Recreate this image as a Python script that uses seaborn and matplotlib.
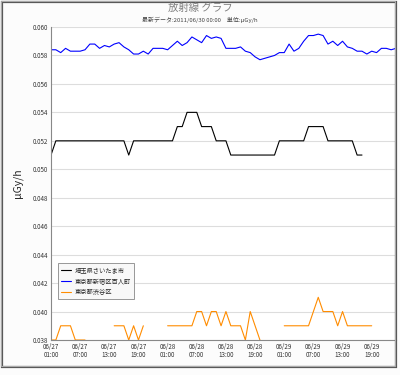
# -*- coding: utf-8 -*-
import numpy as np
import pandas as pd
import seaborn as sns
import matplotlib
matplotlib.use('Agg')
import matplotlib.pyplot as plt
from matplotlib.patches import Rectangle
from matplotlib.ticker import MultipleLocator, FixedLocator

sns.set_style('white')
plt.rcParams['font.family'] = ['Noto Sans CJK JP', 'DejaVu Sans']

# hourly readings, 06/27 01:00 onwards (index = hours)
nan = np.nan
saitama = [0.051] + [0.052] * 15 + [0.051] + [0.052] * 9 + \
          [0.053, 0.053, 0.054, 0.054, 0.054, 0.053, 0.053, 0.053,
           0.052, 0.052, 0.052] + [0.051] * 10 + [0.052] * 6 + \
          [0.053] * 4 + [0.052] * 6 + [0.051, 0.051] + [nan] * 7
shinjuku = [0.0584, 0.0584, 0.0582, 0.0585, 0.0583, 0.0583, 0.0583, 0.0584,
            0.0588, 0.0588, 0.0585, 0.0587, 0.0586, 0.0588, 0.0589, 0.0586,
            0.0584, 0.0581, 0.0581, 0.0583, 0.0581, 0.0585, 0.0585, 0.0585,
            0.0584, 0.0587, 0.0590, 0.0587, 0.0589, 0.0593, 0.0591, 0.0589,
            0.0594, 0.0592, 0.0593, 0.0592, 0.0585, 0.0585, 0.0585, 0.0586,
            0.0583, 0.0582, 0.0579, 0.0577, 0.0578, 0.0579, 0.0580, 0.0582,
            0.0582, 0.0588, 0.0583, 0.0585, 0.0590, 0.0594, 0.0594, 0.0595,
            0.0594, 0.0588, 0.0590, 0.0587, 0.0590, 0.0586, 0.0585, 0.0583,
            0.0583, 0.0581, 0.0583, 0.0582, 0.0585, 0.0585, 0.0584, 0.0585]
shibuya = [0.038, 0.038, 0.039, 0.039, 0.039, 0.038, 0.038, 0.038] + [nan] * 5 + \
          [0.039, 0.039, 0.039, 0.038, 0.039, 0.038, 0.039] + [nan] * 4 + \
          [0.039] * 6 + \
          [0.040, 0.040, 0.039, 0.040, 0.040, 0.039, 0.040, 0.039, 0.039,
           0.039, 0.038, 0.040, 0.039, 0.038] + [nan] * 4 + \
          [0.039] * 6 + \
          [0.040, 0.041, 0.040, 0.040, 0.040, 0.039, 0.040, 0.039] + \
          [0.039] * 5 + [nan] * 4

stations = ['埼玉県さいたま市', '東京都新宿区百人町', '東京都渋谷区']
colors = ['#000000', '#0000ff', '#ff8c00']
tick_labels = ['06/27\n01:00', '06/27\n07:00', '06/27\n13:00', '06/27\n19:00',
               '06/28\n01:00', '06/28\n07:00', '06/28\n13:00', '06/28\n19:00',
               '06/29\n01:00', '06/29\n07:00', '06/29\n13:00', '06/29\n19:00']

frames = []
for name, vals in zip(stations, [saitama, shinjuku, shibuya]):
    s = pd.Series(vals, dtype=float)
    seg = s.isna().cumsum()
    d = pd.DataFrame({'hour': np.arange(len(s)), 'value': s, 'station': name, 'seg': seg})
    frames.append(d.dropna())
df = pd.concat(frames, ignore_index=True)

fig = plt.figure(figsize=(4, 3.75), dpi=100)
fig.patch.set_facecolor('#fcfcfc')
ax = fig.add_axes([51 / 400, 35 / 375, 345 / 400, 313 / 375])
ax.set_facecolor('white')

sns.lineplot(data=df, x='hour', y='value', hue='station', units='seg',
             estimator=None, hue_order=stations, palette=colors,
             linewidth=0.8, ax=ax)

ax.set_xlim(0, 71)
ax.set_ylim(0.038, 0.060)
ax.xaxis.set_major_locator(FixedLocator(np.arange(0, 67, 6)))
ax.set_xticklabels(tick_labels, linespacing=1.0)
ax.xaxis.set_minor_locator(MultipleLocator(1))
ax.yaxis.set_major_locator(MultipleLocator(0.002))
ax.yaxis.set_minor_locator(MultipleLocator(0.001))
ax.yaxis.set_major_formatter(matplotlib.ticker.FormatStrFormatter('%.3f'))
ax.tick_params(which='major', direction='in', length=3, width=0.6, color='#888888',
               labelsize=4.5, labelcolor='#333333', pad=2)
ax.tick_params(which='minor', direction='in', length=2, width=0.5, color='#888888')
ax.grid(axis='y', which='major', color='#dddddd', linewidth=0.8)
ax.set_axisbelow(True)
for sp in ['top', 'right']:
    ax.spines[sp].set_visible(False)
for sp in ['left', 'bottom']:
    ax.spines[sp].set_color('#888888')
    ax.spines[sp].set_linewidth(0.8)

ax.set_xlabel('')
ax.set_ylabel('μGy/h', fontsize=7.5, labelpad=7)

handles, labels = ax.get_legend_handles_labels()
leg = ax.legend(handles, labels, loc='upper left', bbox_to_anchor=(0.012, 0.255),
                fontsize=4.5, frameon=True, fancybox=False, edgecolor='#888888',
                framealpha=1, facecolor='#f8f8f8', handlelength=1.5,
                labelspacing=0.45, borderpad=0.5, handletextpad=0.6)
leg.get_frame().set_linewidth(0.6)

fig.text(0.5, 1 - 7.5 / 375, '放射線 グラフ', ha='center', va='center',
         fontsize=7.5, color='#808080')
fig.text(0.5, 1 - 19.5 / 375, '最新データ:2011/06/30 00:00　単位:μGy/h', ha='center',
         va='center', fontsize=4.3, color='#444444',
         family=['Noto Sans CJK JP', 'DejaVu Sans'])

# outer frame with a small drop shadow
fig.patches.append(Rectangle((2 / 400, 8 / 375), 394 / 400, 365 / 375, transform=fig.transFigure,
                             fill=False, edgecolor='#555555', linewidth=1.6, zorder=0))
fig.patches.append(Rectangle((1 / 400, 9 / 375), 394 / 400, 365 / 375, transform=fig.transFigure,
                             fill=False, edgecolor='#aaaaaa', linewidth=0.8, zorder=1))

fig.savefig('out.png', dpi=100, facecolor=fig.get_facecolor())
